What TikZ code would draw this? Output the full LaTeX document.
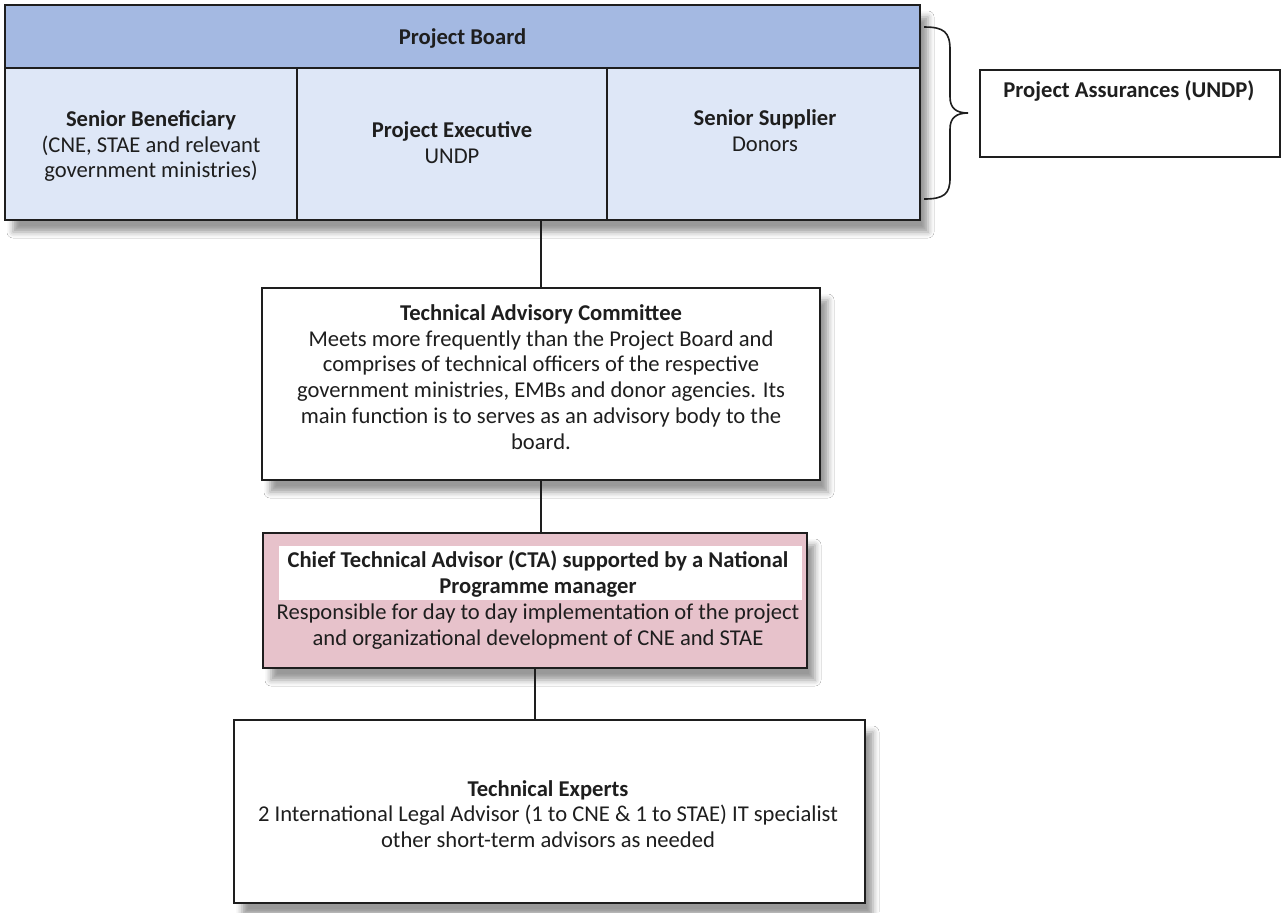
\documentclass[tikz,border=0pt]{standalone}
\usepackage{fontspec}
\setmainfont{Carlito}
\usetikzlibrary{shadows.blur}
\definecolor{hdrblue}{HTML}{A4B9E2}
\definecolor{boxblue}{HTML}{DEE7F7}
\definecolor{ctapink}{HTML}{E7C2CB}
\definecolor{inkc}{HTML}{1E1E1E}
\tikzset{
  x=0.5pt, y=-0.5pt,
  every node/.style={font=\fontsize{11.3}{12.9}\selectfont, text=inkc},
  box/.style={draw=inkc, line width=1pt, rectangle, inner sep=0pt},
  shad/.style={blur shadow={shadow xshift=4pt, shadow yshift=-6pt, shadow blur radius=3pt, shadow opacity=40}},
  txt/.style={align=center, inner sep=0pt},
  conn/.style={draw=inkc, line width=0.8pt},
}
\begin{document}
\begin{tikzpicture}
\useasboundingbox[fill=white] (0,0) rectangle (1283,912);
% Project board group
\fill[shad, fill=white] (5,5) rectangle (920,220);
\node[box, fill=hdrblue, minimum width=457.5pt, minimum height=31.5pt] (pb) at (462.5,36.5) {};
\node[box, fill=boxblue, minimum width=146pt, minimum height=76pt] (sb) at (151,144) {};
\node[box, fill=boxblue, minimum width=155pt, minimum height=76pt] (pe) at (452,144) {};
\node[box, fill=boxblue, minimum width=156.5pt, minimum height=76pt] (ss) at (763.5,144) {};
\node[txt] (pbt) at (462.5,38) {\textbf{Project Board}};
\node[txt] (sbt) at (151,146) {\textbf{Senior Beneficiary}\\(CNE, STAE and relevant\\government ministries)};
\node[txt] (pet) at (452,143) {\textbf{Project Executive}\\UNDP};
\node[txt] (sst) at (765,131) {\textbf{Senior Supplier}\\Donors};
% brace
\draw[inkc, line width=0.8pt] (924,27) .. controls (944,27) and (950,32) .. (950,50) -- (950,97)
  .. controls (950,108) and (956,113) .. (968,113)
  .. controls (956,113) and (950,118) .. (950,129) -- (950,178)
  .. controls (950,194) and (944,199) .. (924,199);
% project assurances
\node[box, line width=0.7pt, fill=white, minimum width=150pt, minimum height=43.5pt] (pa) at (1130,113.5) {};
\node[txt] (pat) at (1129,91) {\textbf{Project Assurances (UNDP)}};
% TAC
\node[box, shad, fill=white, minimum width=279pt, minimum height=96pt] (tac) at (541,384) {};
\node[txt] (tact) at (541,377) {\textbf{Technical Advisory Committee}\\Meets more frequently than the Project Board and\\comprises of technical officers of the respective\\government ministries, EMBs and donor agencies. Its\\main function is to serves as an advisory body to the\\board.};
% CTA
\node[box, shad, fill=ctapink, minimum width=272pt, minimum height=67.5pt] (cta) at (535,600.5) {};
\fill[white] (279,546) rectangle (802,600);
\node[txt] (ctat) at (538,600) {\textbf{Chief Technical Advisor (CTA) supported by a National}\\\textbf{Programme manager}\\Responsible for day to day implementation of the project\\and organizational development of CNE and STAE};
% TE
\node[box, shad, fill=white, minimum width=315.5pt, minimum height=91.5pt] (te) at (549.5,811.5) {};
\node[txt] (tet) at (548,814) {\textbf{Technical Experts}\\2 International Legal Advisor (1 to CNE \& 1 to STAE) IT specialist\\other short-term advisors as needed};
% connectors
\draw[conn] (tac.north) -- (tac.north |- pe.south);
\draw[conn] (tac.south) -- (tac.south |- cta.north);
\draw[conn] (cta.south) -- (cta.south |- te.north);
\end{tikzpicture}
\end{document}
